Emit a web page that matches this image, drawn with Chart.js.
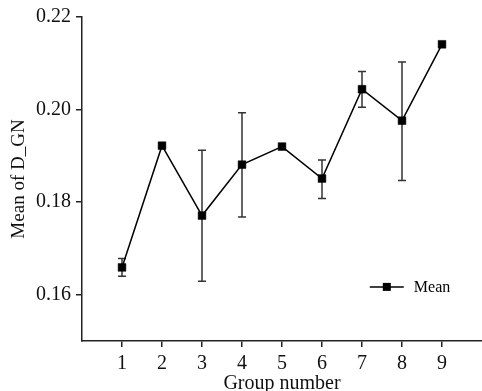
<!DOCTYPE html>
<html>
<head>
<meta charset="utf-8">
<script src="https://cdn.jsdelivr.net/npm/chart.js@4"></script>
<style>
  html,body{margin:0;padding:0;background:#fff;}
  #c{display:block;}
</style>
</head>
<body>
<canvas id="c" width="482" height="391"></canvas>
<script>
// values
const groups = [1,2,3,4,5,6,7,8,9];
const means = [0.1659,0.1922,0.1771,0.1881,0.1920,0.1851,0.2044,0.1976,0.2141];
const errHigh = [0.1678,null,0.1912,0.1993,null,0.1891,0.2082,0.2103,null];
const errLow  = [0.1640,null,0.1629,0.1768,null,0.1808,0.2005,0.1847,null];
const yTicks = [0.16,0.18,0.20,0.22];
const seriesLabel = 'Mean';

const FONT = "'Liberation Serif', 'Times New Roman', serif";

// vertical error bars with caps, drawn under the line
const errorBars = {
  id:'errorBars',
  beforeDatasetsDraw(chart){
    const {ctx, scales:{x,y}} = chart;
    ctx.save();
    ctx.strokeStyle = '#333';
    ctx.lineWidth = 1.5;
    groups.forEach((g,i)=>{
      if(errHigh[i]==null) return;
      const px = x.getPixelForValue(g);
      const top = y.getPixelForValue(errHigh[i]);
      const bot = y.getPixelForValue(errLow[i]);
      ctx.beginPath();
      ctx.moveTo(px,top); ctx.lineTo(px,bot);
      ctx.moveTo(px-4,top); ctx.lineTo(px+4,top);
      ctx.moveTo(px-4,bot); ctx.lineTo(px+4,bot);
      ctx.stroke();
    });
    ctx.restore();
  }
};

// small legend inside the plot, lower right
const innerLegend = {
  id:'innerLegend',
  afterDraw(chart){
    const {ctx, chartArea:a} = chart;
    const cx = a.left + (a.right-a.left)*0.762;
    const cy = a.top + (a.bottom-a.top)*0.833;
    ctx.save();
    ctx.strokeStyle = '#000';
    ctx.lineWidth = 1.5;
    ctx.beginPath();
    ctx.moveTo(cx-17,cy); ctx.lineTo(cx+17,cy);
    ctx.stroke();
    ctx.fillStyle = '#000';
    ctx.fillRect(cx-4,cy-4,8,8);
    ctx.font = '16px ' + FONT;
    ctx.textBaseline = 'middle';
    ctx.fillText(seriesLabel, cx+27, cy+1);
    ctx.restore();
  }
};

new Chart(document.getElementById('c'), {
  type:'line',
  data:{
    datasets:[{
      label: seriesLabel,
      data: groups.map((g,i)=>({x:g, y:means[i]})),
      borderColor:'#000',
      borderWidth:1.5,
      pointStyle:'rect',
      pointRadius:5.5,
      pointBorderWidth:0.5,
      pointBackgroundColor:'#000',
      pointBorderColor:'#000',
      tension:0
    }]
  },
  options:{
    responsive:false,
    animation:false,
    layout:{autoPadding:false, padding:{top:16,right:0,left:0,bottom:0}},
    plugins:{legend:{display:false}, tooltip:{enabled:false}},
    scales:{
      x:{
        type:'linear', min:0, max:10,
        afterBuildTicks(s){ s.ticks = groups.map(v=>({value:v})); },
        afterFit(s){ s.height = 50; },
        grid:{display:true, drawOnChartArea:false, drawTicks:true, tickLength:6, color:'#222', lineWidth:1.5},
        border:{display:true, color:'#222', width:1.5},
        ticks:{color:'#111', font:{family:FONT, size:20}, padding:5, maxRotation:0},
        title:{display:true, text:'Group number', color:'#111', font:{family:FONT, size:20}, padding:{top:0,bottom:-5}}
      },
      y:{
        min:0.15, max:0.22,
        afterBuildTicks(s){ s.ticks = yTicks.map(v=>({value:v})); },
        afterFit(s){ s.width = 82; },
        grid:{display:true, drawOnChartArea:false, drawTicks:true, tickLength:6, color:'#222', lineWidth:1.5},
        border:{display:true, color:'#222', width:1.5},
        ticks:{color:'#111', font:{family:FONT, size:20}, padding:5, callback:v=>v.toFixed(2)},
        title:{display:true, text:'Mean of D_GN', color:'#111', font:{family:FONT, size:19}, padding:{top:8,bottom:0}}
      }
    }
  },
  plugins:[errorBars, innerLegend]
});
</script>
</body>
</html>
